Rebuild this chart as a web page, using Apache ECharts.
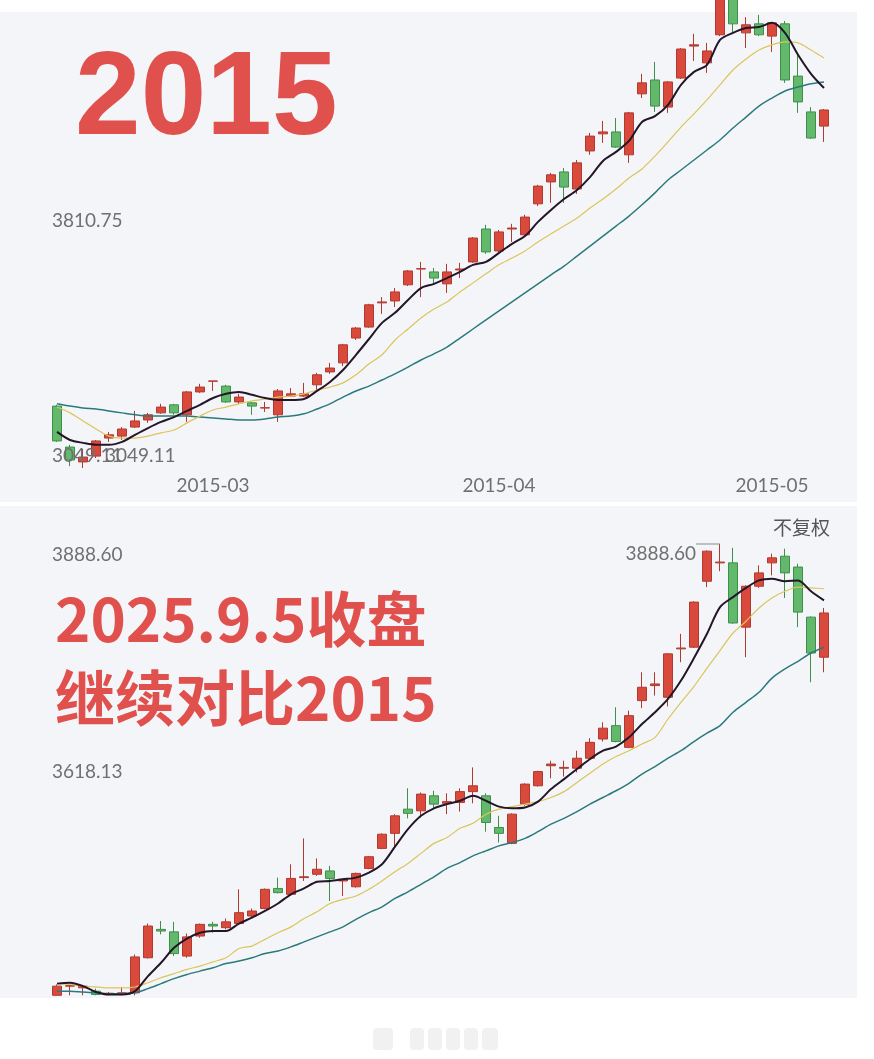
<!DOCTYPE html>
<html><head><meta charset="utf-8">
<script src="https://cdn.jsdelivr.net/npm/echarts@6/dist/echarts.min.js"></script>
<style>html,body{margin:0;padding:0;background:#fff}#c{width:874px;height:1059px}</style>
</head><body><div id="c"></div>
<script>
// ---------------- DATA ----------------
const topDates = ['2015-02-05','2015-02-06','2015-02-09','2015-02-10','2015-02-11','2015-02-12','2015-02-13','2015-02-16','2015-02-17','2015-02-25','2015-02-26','2015-02-27',
'2015-03-02','2015-03-03','2015-03-04','2015-03-05','2015-03-06','2015-03-09','2015-03-10','2015-03-11','2015-03-12','2015-03-13','2015-03-16','2015-03-17','2015-03-18','2015-03-19','2015-03-20','2015-03-23','2015-03-24','2015-03-25','2015-03-26','2015-03-27','2015-03-30','2015-03-31',
'2015-04-01','2015-04-02','2015-04-03','2015-04-07','2015-04-08','2015-04-09','2015-04-10','2015-04-13','2015-04-14','2015-04-15','2015-04-16','2015-04-17','2015-04-20','2015-04-21','2015-04-22','2015-04-23','2015-04-24','2015-04-27','2015-04-28','2015-04-29','2015-04-30',
'2015-05-04','2015-05-05','2015-05-06','2015-05-07','2015-05-08'];
// [open, close, low, high]
const topCandles = [
[3241,3133,3130,3245],[3114,3074,3055,3121],[3068,3083,3049.11,3108],[3086,3133,3080,3136],[3142,3152,3130,3161],
[3148,3170,3136,3176],[3176,3195,3173,3226],[3198,3214,3189,3220],[3220,3238,3217,3248],[3245,3220,3214,3248],
[3214,3285,3192,3288],[3285,3300,3282,3310],[3318,3319,3288,3319],[3303,3254,3251,3307],[3254,3269,3248,3279],
[3251,3241,3214,3254],[3235,3236,3223,3254],[3214,3288,3192,3294],[3272,3279,3269,3297],[3272,3279,3269,3313],
[3307,3338,3285,3344],[3347,3359,3341,3375],[3375,3431,3365,3434],[3452,3483,3446,3486],[3486,3555,3484,3558],
[3561,3564,3527,3579],[3567,3595,3548,3607],[3617,3660,3613,3663],[3666,3667,3579,3688],[3657,3638,3617,3669],
[3620,3657,3592,3682],[3663,3666,3638,3685],[3688,3762,3685,3765],[3790,3719,3713,3803],[3722,3781,3719,3787],
[3790,3793,3750,3806],[3772,3827,3765,3834],[3868,3923,3861,3927],[3936,3958,3871,3964],[3967,3920,3871,3979],
[3914,3995,3899,4004],[4032,4078,4020,4088],[4085,4091,4057,4125],[4091,4044,4041,4134],[4020,4150,3995,4153],
[4209,4243,4196,4271],[4252,4171,4153,4308],[4168,4246,4150,4249],[4258,4348,4255,4351],[4357,4361,4311,4395],
[4305,4342,4274,4367],[4392,4527,4388,4572.39],[4520,4426,4398,4550],[4398,4423,4351,4447],[4426,4392,4388,4454],
[4388,4429,4339,4432],[4426,4252,4243,4435],[4264,4184,4150,4330],[4153,4072,4069,4168],[4109,4159,4060,4162]];
const topMA5 = [3161,3136,3127,3121,3121,3130,3152,3173,3192,3207,3226,3245,3266,3279,3285,3276,3266,3260,3260,3263,3288,3316,3353,3400,3449,3499,3530,3570,3607,3620,3638,3657,3679,3688,3716,3744,3768,3812,3849,3883,3911,3951,4001,4029,4063,4122,4140,4175,4237,4277,4299,4376,4398,4413,4416,4429,4398,4330,4271,4227];
const topMA10 = [3238,3220,3195,3170,3148,3142,3142,3148,3158,3167,3189,3210,3229,3238,3248,3257,3263,3269,3272,3279,3291,3300,3313,3338,3372,3400,3446,3480,3514,3542,3564,3595,3623,3651,3679,3700,3722,3750,3775,3799,3824,3855,3883,3914,3948,3976,4016,4060,4106,4147,4190,4237,4283,4317,4345,4361,4370,4367,4345,4320];
const topMA20 = [3248,3241,3235,3232,3226,3220,3214,3210,3210,3210,3210,3207,3204,3201,3198,3198,3201,3207,3210,3217,3232,3248,3269,3288,3303,3322,3341,3362,3384,3403,3424,3452,3480,3508,3536,3564,3592,3620,3648,3675,3706,3737,3768,3799,3830,3865,3902,3942,3973,4004,4035,4066,4103,4137,4171,4196,4218,4230,4240,4246];
const topXTicks = ['2015-03-02','2015-04-01','2015-05-04'];
const topXTickLabels = ['2015-03','2015-04','2015-05'];
const topYTicks = [3810.75, 3049.11];
const topYTickLabels = ['3810.75','3049.11'];

const botDates = ['2025-06-16','2025-06-17','2025-06-18','2025-06-19','2025-06-20','2025-06-23','2025-06-24','2025-06-25','2025-06-26','2025-06-27','2025-06-30',
'2025-07-01','2025-07-02','2025-07-03','2025-07-04','2025-07-07','2025-07-08','2025-07-09','2025-07-10','2025-07-11','2025-07-14','2025-07-15','2025-07-16','2025-07-17','2025-07-18','2025-07-21','2025-07-22','2025-07-23','2025-07-24','2025-07-25','2025-07-28','2025-07-29','2025-07-30','2025-07-31',
'2025-08-01','2025-08-04','2025-08-05','2025-08-06','2025-08-07','2025-08-08','2025-08-11','2025-08-12','2025-08-13','2025-08-14','2025-08-15','2025-08-18','2025-08-19','2025-08-20','2025-08-21','2025-08-22','2025-08-25','2025-08-26','2025-08-27','2025-08-28','2025-08-29',
'2025-09-01','2025-09-02','2025-09-03','2025-09-04','2025-09-05'];
const botCandles = [
[3348,3359,3347.66,3361],[3359,3359.5,3348,3360],[3357,3359,3348,3360],[3353,3349,3348,3356],[3350,3350.5,3348,3352],
[3349,3351,3348,3358],[3351,3394,3348,3397],[3393,3431,3392,3434],[3427,3425,3421,3437],[3424,3398,3395,3436],
[3395,3418,3393,3422],[3419,3433,3417,3434],[3433,3431,3423,3436],[3429,3436,3427,3440],[3434,3447,3433,3475],
[3443,3449,3441,3452],[3452,3475,3451,3476],[3476,3471,3470,3489],[3469,3488,3467,3505],[3489,3490,3485,3536],
[3493,3499,3491,3512],[3497,3488,3461,3503],[3485,3487,3467,3488],[3478,3494,3477,3495],[3500,3514,3499,3515],
[3524,3541,3523,3542],[3542,3563,3527,3565],[3571,3566,3560,3596],[3569,3589,3561,3591],[3587,3577,3572,3593],
[3578,3580,3565,3590],[3579,3592,3568,3596],[3592,3599,3578,3621],[3587,3555,3544,3590],[3549,3542,3531,3563],
[3530,3565,3529,3566],[3577,3601,3575,3602],[3599,3616,3598,3617],[3623,3625,3608,3629],[3620,3621,3610,3629],
[3620,3632,3615,3641],[3632,3651,3631,3656],[3655,3668,3652,3675],[3671,3652,3651,3693],[3645,3683,3644,3689],
[3701,3717,3692,3735],[3719,3721,3707,3735],[3705,3757,3694,3758],[3763,3764,3747,3781],[3765,3819,3764,3820],
[3844,3880,3837,3881],[3866,3867,3856,3888.6],[3866,3794,3793,3884],[3789,3838,3753,3839],[3838,3854,3836,3863],
[3866,3872,3851,3877],[3874,3854,3824,3883],[3861,3807,3789,3865],[3801,3758,3723,3802],[3753,3806,3735,3812]];
const botMA5 = [3362,3363,3359,3352,3349,3349,3353,3371,3387,3405,3416,3423,3425,3425,3434,3441,3449,3458,3469,3476,3484,3485,3487,3489,3495,3505,3526,3547,3563,3572,3577,3581,3587,3581,3574,3572,3573,3580,3595,3607,3619,3631,3641,3646,3657,3673,3687,3703,3725,3752,3781,3813,3825,3836,3845,3847,3844,3845,3832,3821];
const botMA10 = [3362,3361,3359,3358,3357,3357,3358,3363,3369,3374,3379,3383,3388,3393,3404,3407,3415,3423,3430,3440,3448,3458,3463,3467,3475,3485,3496,3506,3518,3530,3537,3548,3554,3565,3571,3574,3577,3580,3585,3592,3603,3614,3625,3634,3641,3649,3657,3679,3699,3718,3740,3761,3782,3796,3812,3824,3832,3837,3836,3835];
const botMA20 = [3353,3353,3352,3351,3350,3350,3351,3356,3362,3368,3373,3377,3381,3386,3389,3393,3398,3401,3406,3412,3418,3424,3430,3439,3447,3454,3464,3472,3481,3490,3500,3507,3515,3521,3527,3531,3536,3544,3553,3560,3568,3577,3585,3593,3602,3613,3622,3632,3641,3652,3662,3671,3687,3699,3711,3728,3739,3748,3758,3765];
const botYTicks = [3888.60, 3618.13];
const botYTickLabels = ['3888.60','3618.13'];

// ---------------- STYLE ----------------
const RED = '#da4a3c', RED_B = '#ae3a30', GREEN = '#62b96b', GREEN_B = '#3f8f4a';
const MA5C = '#231629', MA10C = '#dcc55a', MA20C = '#2b7a7b';
const LABEL = '#707070';
const FONT = 'Lato, "Noto Sans", sans-serif';

function candle(gi, data) {
  return { type: 'candlestick', xAxisIndex: gi, yAxisIndex: gi, data: data, barWidth: 10, clip: true, z: 2,
    itemStyle: { color: RED, color0: GREEN, borderColor: RED_B, borderColor0: GREEN_B, borderWidth: 1 } };
}
function ma(gi, data, color, width) {
  return { type: 'line', xAxisIndex: gi, yAxisIndex: gi, data: data, symbol: 'none', smooth: 0.3, z: 4, silent: true,
    lineStyle: { color: color, width: width } };
}

const chart = echarts.init(document.getElementById('c'));
chart.setOption({
  animation: false,
  backgroundColor: '#ffffff',
  grid: [
    { left: 50.5, width: 780, top: 12, height: 456, outerBoundsMode: 'none' },
    { left: 50.5, width: 780, top: 544, height: 451.6, outerBoundsMode: 'none' }
  ],
  xAxis: [
    { type: 'category', gridIndex: 0, data: topDates, axisLine: { show: false }, axisTick: { show: false }, splitLine: { show: false },
      axisLabel: { interval: (i, v) => topXTicks.indexOf(v) >= 0, formatter: v => topXTickLabels[topXTicks.indexOf(v)] || '',
        color: LABEL, fontSize: 19, fontFamily: FONT, margin: 8, hideOverlap: false } },
    { type: 'category', gridIndex: 1, data: botDates, axisLine: { show: false }, axisTick: { show: false }, splitLine: { show: false }, axisLabel: { show: false } }
  ],
  yAxis: [
    { type: 'value', gridIndex: 0, min: 3049.11, max: 4462.71, show: false, splitLine: { show: false } },
    { type: 'value', gridIndex: 1, min: 3347.66, max: 3888.6, show: false, splitLine: { show: false } }
  ],
  series: [
    candle(0, topCandles), ma(0, topMA20, MA20C, 1.5), ma(0, topMA10, MA10C, 1.2), ma(0, topMA5, MA5C, 2),
    candle(1, botCandles), ma(1, botMA20, MA20C, 1.5), ma(1, botMA10, MA10C, 1.2), ma(1, botMA5, MA5C, 2)
  ]
});

// ---------------- DECORATION ----------------
function px(gi, idx, val) { return chart.convertToPixel({ gridIndex: gi }, [idx, val]); }
function txt(text, x, y, o) {
  return { type: 'text', x: x, y: y, z: 20, silent: true,
    style: Object.assign({ text: text, fill: LABEL, fontSize: 19, fontFamily: FONT,
      align: 'left', verticalAlign: 'middle', textAlign: 'left', textVerticalAlign: 'middle' }, o || {}) };
}
const g = [];
g.push({ type: 'rect', z: -10, silent: true, shape: { x: 0, y: 12, width: 857, height: 490 }, style: { fill: '#f4f5f9' } });
g.push({ type: 'rect', z: -10, silent: true, shape: { x: 0, y: 506, width: 857, height: 492 }, style: { fill: '#f4f5f9' } });

// y tick labels (top label sits below its line, bottom label above, middle centred)
const topDy = [-1, -12], botDy = [11, 2];
topYTicks.forEach((v, k) => { const p = px(0, 0, v); g.push(txt(topYTickLabels[k], 52, p[1] + topDy[k])); });
botYTicks.forEach((v, k) => { const p = px(1, 0, v); g.push(txt(botYTickLabels[k], 52, p[1] + botDy[k])); });

// low marker (top chart)
let lowIdx = 0; topCandles.forEach((c, i) => { if (c[2] < topCandles[lowIdx][2]) lowIdx = i; });
const lp = px(0, lowIdx, topCandles[lowIdx][2]);
g.push(txt(String(topCandles[lowIdx][2].toFixed(2)), lp[0] + 22, lp[1] - 12));

// high marker (bottom chart)
let hiIdx = 0; botCandles.forEach((c, i) => { if (c[3] > botCandles[hiIdx][3]) hiIdx = i; });
const hp = px(1, hiIdx, botCandles[hiIdx][3]);
g.push({ type: 'line', z: 20, silent: true, shape: { x1: hp[0] - 24, y1: hp[1], x2: hp[0], y2: hp[1] }, style: { stroke: '#8a8a8a', lineWidth: 1 } });
g.push(txt(botCandles[hiIdx][3].toFixed(2), hp[0] - 24, hp[1] + 10, { align: 'right', textAlign: 'right' }));

// titles
g.push(txt('2015', 75, 101, { fill: '#e0504c', fontSize: 118, fontWeight: 'bold', fontFamily: '"Liberation Sans", Arial, sans-serif' }));
g.push(txt('2025.9.5收盘', 55, 619, { fill: '#e0504c', fontSize: 60, fontWeight: 'bold', fontFamily: '"Noto Sans CJK SC", sans-serif' }));
g.push(txt('继续对比2015', 55, 698, { fill: '#e0504c', fontSize: 60, fontWeight: 'bold', fontFamily: '"Noto Sans CJK SC", sans-serif' }));
g.push(txt('不复权', 773, 528, { fill: '#555555', fontSize: 19, fontFamily: '"Noto Sans CJK SC", sans-serif' }));

// faint watermark at the bottom
[[373, 20], [410, 14], [428, 14], [446, 14], [464, 14], [482, 16]].forEach(w => {
  g.push({ type: 'rect', z: -5, silent: true, shape: { x: w[0], y: 1028, width: w[1], height: 22, r: 4 }, style: { fill: '#f1f1f1' } });
});

chart.setOption({ graphic: g });
</script>
</body></html>
